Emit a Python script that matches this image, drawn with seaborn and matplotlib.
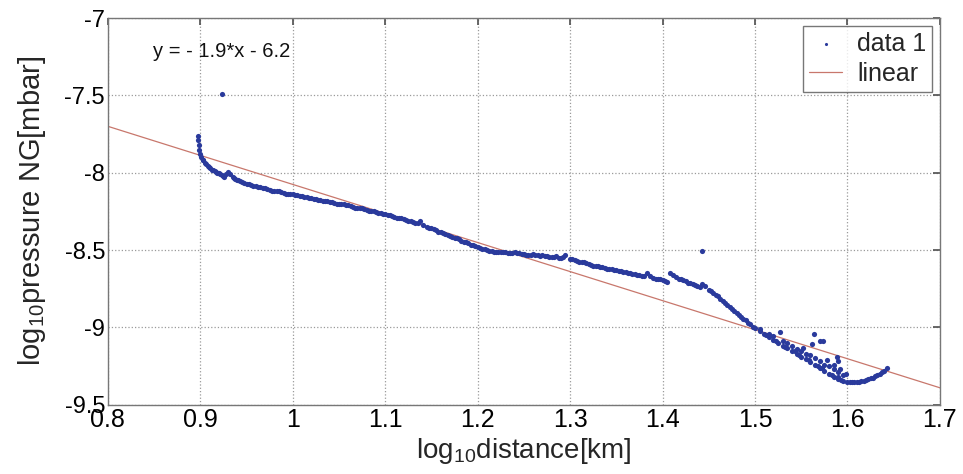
import matplotlib
matplotlib.use("Agg")
import matplotlib.pyplot as plt
import seaborn as sns
import pandas as pd

# ---- data ----
dist_log = [0.898, 0.898, 0.899, 0.899, 0.900, 0.901, 0.903, 0.905, 0.908, 0.911,
            0.914, 0.917, 0.920, 0.923, 0.926, 0.928, 0.930, 0.932, 0.935, 0.938,
            0.941, 0.945, 0.950, 0.955, 0.960, 0.965, 0.970, 0.975, 0.980, 0.985,
            0.990, 0.995, 1.000, 1.005, 1.010, 1.015, 1.020, 1.025, 1.030, 1.035,
            1.040, 1.045, 1.050, 1.055, 1.060, 1.065, 1.070, 1.075, 1.080, 1.085,
            1.090, 1.095, 1.100, 1.105, 1.110, 1.115, 1.120, 1.125, 1.130, 1.135,
            1.138, 1.141, 1.145, 1.150, 1.155, 1.160, 1.165, 1.170, 1.175, 1.180,
            1.185, 1.190, 1.195, 1.200, 1.205, 1.210, 1.215, 1.220, 1.225, 1.230,
            1.235, 1.240, 1.245, 1.250, 1.255, 1.260, 1.265, 1.270, 1.275, 1.280,
            1.285, 1.290, 1.295, 1.300, 1.305, 1.310, 1.315, 1.320, 1.325, 1.330,
            1.335, 1.340, 1.345, 1.350, 1.355, 1.360, 1.365, 1.370, 1.375, 1.380,
            1.383, 1.386, 1.390, 1.395, 1.400, 1.405, 1.408, 1.411, 1.415, 1.420,
            1.425, 1.430, 1.435, 1.440, 1.443, 1.446, 1.450, 1.455, 1.460, 1.465,
            1.470, 1.475, 1.480, 1.485, 1.490, 1.495, 1.500, 1.505, 1.510, 1.515,
            1.520, 1.525, 1.530, 1.535, 1.540, 1.545, 1.550, 1.555, 1.560, 1.565,
            1.570, 1.575, 1.580, 1.585, 1.590, 1.595, 1.600, 1.605, 1.610, 1.615,
            1.620, 1.625, 1.630, 1.635, 1.640, 1.643,
            # denser run of points between the ones above
            0.9025, 0.9065, 0.9095, 0.9125, 0.9155, 0.9185, 0.9215, 0.9245, 0.9365, 0.9395,
            0.9430, 0.9475, 0.9525, 0.9575, 0.9625, 0.9675, 0.9725, 0.9775, 0.9825, 0.9875,
            0.9925, 0.9975, 1.0025, 1.0075, 1.0125, 1.0175, 1.0225, 1.0275, 1.0325, 1.0375,
            1.0425, 1.0475, 1.0525, 1.0575, 1.0625, 1.0675, 1.0725, 1.0775, 1.0825, 1.0875,
            1.0925, 1.0975, 1.1025, 1.1075, 1.1125, 1.1175, 1.1225, 1.1275, 1.1325, 1.1475,
            1.1525, 1.1575, 1.1625, 1.1675, 1.1725, 1.1775, 1.1825, 1.1875, 1.1925, 1.1975,
            1.2025, 1.2075, 1.2125, 1.2175, 1.2225, 1.2275, 1.2325, 1.2375, 1.2425, 1.2475,
            1.2525, 1.2575, 1.2625, 1.2675, 1.2725, 1.2775, 1.2825, 1.2875, 1.2925, 1.3025,
            1.3075, 1.3125, 1.3175, 1.3225, 1.3275, 1.3325, 1.3375, 1.3425, 1.3475, 1.3525,
            1.3575, 1.3625, 1.3675, 1.3725, 1.3775, 1.3925, 1.3975, 1.4025, 1.4175, 1.4225,
            1.4275, 1.4325, 1.4375, 1.4525, 1.4575, 1.4625, 1.4675, 1.4725, 1.4775, 1.4825,
            1.4875, 1.4925, 1.4975, 1.6025, 1.6075, 1.6125, 1.6175, 1.6225, 1.6275, 1.6325,
            1.6375,
            # scattered band 1.5 - 1.6
            1.505, 1.515, 1.520, 1.530, 1.535, 1.540, 1.545, 1.550, 1.555, 1.560,
            1.565, 1.570, 1.575, 1.580, 1.585, 1.590, 1.595, 1.585, 1.590, 1.578,
            1.574, 1.570, 1.564, 1.562, 1.552, 1.527, 1.589, 1.592, 1.590, 1.598,
            1.512, 1.523, 1.533, 1.543, 1.548, 1.558, 1.568, 1.573, 1.583, 1.593,
            # outliers
            0.924, 1.443]
pressure_log = [-7.76, -7.79, -7.82, -7.85, -7.88, -7.90, -7.92, -7.94, -7.955, -7.97,
                -7.985, -7.995, -8.005, -8.015, -8.025, -8.01, -7.995, -8.01, -8.025, -8.04,
                -8.05, -8.06, -8.07, -8.08, -8.085, -8.095, -8.10, -8.11, -8.115, -8.12,
                -8.13, -8.135, -8.14, -8.145, -8.15, -8.16, -8.165, -8.17, -8.175, -8.18,
                -8.19, -8.195, -8.20, -8.205, -8.21, -8.22, -8.225, -8.23, -8.24, -8.245,
                -8.255, -8.26, -8.27, -8.275, -8.285, -8.29, -8.30, -8.31, -8.32, -8.325,
                -8.315, -8.335, -8.35, -8.36, -8.37, -8.385, -8.395, -8.41, -8.42, -8.43,
                -8.445, -8.455, -8.47, -8.48, -8.49, -8.50, -8.505, -8.51, -8.51, -8.515,
                -8.52, -8.515, -8.52, -8.525, -8.53, -8.525, -8.535, -8.535, -8.54, -8.545,
                -8.54, -8.55, -8.535, -8.555, -8.565, -8.575, -8.58, -8.59, -8.60, -8.605,
                -8.61, -8.62, -8.625, -8.63, -8.635, -8.64, -8.65, -8.655, -8.66, -8.67,
                -8.645, -8.665, -8.68, -8.69, -8.695, -8.705, -8.645, -8.66, -8.675, -8.69,
                -8.70, -8.715, -8.725, -8.74, -8.72, -8.735, -8.755, -8.78, -8.80, -8.83,
                -8.855, -8.88, -8.905, -8.93, -8.955, -8.98, -9.005, -9.025, -9.045, -9.06,
                -9.08, -9.10, -9.12, -9.135, -9.155, -9.17, -9.19, -9.205, -9.225, -9.24,
                -9.26, -9.28, -9.30, -9.32, -9.335, -9.345, -9.35, -9.355, -9.35, -9.345,
                -9.34, -9.33, -9.315, -9.30, -9.28, -9.265,
                -7.915, -7.945, -7.96, -7.98, -7.99, -8.0, -8.01, -8.02, -8.035, -8.045,
                -8.055, -8.065, -8.075, -8.085, -8.09, -8.10, -8.105, -8.115, -8.12, -8.125,
                -8.135, -8.14, -8.145, -8.15, -8.155, -8.165, -8.17, -8.175, -8.18, -8.185,
                -8.19, -8.20, -8.205, -8.21, -8.215, -8.225, -8.23, -8.235, -8.245, -8.25,
                -8.26, -8.265, -8.275, -8.28, -8.29, -8.295, -8.305, -8.315, -8.325, -8.355,
                -8.365, -8.38, -8.39, -8.405, -8.415, -8.425, -8.44, -8.45, -8.465, -8.475,
                -8.485, -8.495, -8.505, -8.51, -8.515, -8.51, -8.52, -8.52, -8.52, -8.525,
                -8.53, -8.53, -8.53, -8.54, -8.54, -8.545, -8.545, -8.55, -8.545, -8.56,
                -8.57, -8.58, -8.585, -8.595, -8.60, -8.61, -8.615, -8.62, -8.63, -8.635,
                -8.64, -8.645, -8.655, -8.66, -8.665, -8.685, -8.69, -8.70, -8.685, -8.695,
                -8.71, -8.72, -8.73, -8.765, -8.79, -8.815, -8.845, -8.87, -8.895, -8.92,
                -8.945, -8.97, -8.995, -9.355, -9.35, -9.35, -9.345, -9.335, -9.325, -9.31,
                -9.29,
                -9.01, -9.04, -9.055, -9.09, -9.10, -9.12, -9.14, -9.15, -9.17, -9.18,
                -9.20, -9.22, -9.24, -9.25, -9.27, -9.29, -9.31, -9.24, -9.22, -9.21,
                -9.09, -9.09, -9.04, -9.11, -9.13, -9.03, -9.19, -9.27, -9.32, -9.30,
                -9.05, -9.085, -9.125, -9.15, -9.18, -9.21, -9.25, -9.26, -9.31, -9.34,
                -7.49, -8.505]

# linear fit, y = -1.9*x - 6.2 (end points as drawn)
fit_x = [0.8, 1.7]
fit_y = [-7.70, -9.39]
fit_text = "y = - 1.9*x - 6.2"

x_ticks = [0.8, 0.9, 1.0, 1.1, 1.2, 1.3, 1.4, 1.5, 1.6, 1.7]
x_ticklabels = ["0.8", "0.9", "1", "1.1", "1.2", "1.3", "1.4", "1.5", "1.6", "1.7"]
y_ticks = [-9.5, -9, -8.5, -8, -7.5, -7]
y_ticklabels = ["-9.5", "-9", "-8.5", "-8", "-7.5", "-7"]

sns.set_theme(style="white")
plt.rcParams["font.family"] = ["Liberation Sans", "DejaVu Sans"]
plt.rcParams["mathtext.fontset"] = "custom"
plt.rcParams["mathtext.rm"] = "Liberation Sans"
plt.rcParams["mathtext.default"] = "rm"

df = pd.DataFrame({"x": dist_log, "y": pressure_log})
df_fit = pd.DataFrame({"x": fit_x, "y": fit_y})

fig = plt.figure(figsize=(9.63, 4.74), dpi=100)
ax = fig.add_axes([0.112, 0.146, 0.864, 0.816])

sns.lineplot(data=df_fit, x="x", y="y", ax=ax, color="#c8776c", lw=0.9,
             label="linear", zorder=2)
sns.scatterplot(data=df, x="x", y="y", ax=ax, color="#2a3a9c", s=14,
                linewidth=0, label="data 1", zorder=3)

ax.set_xlim(0.8, 1.7)
ax.set_ylim(-9.5, -7)
ax.set_xticks(x_ticks)
ax.set_xticklabels(x_ticklabels, fontsize=18)
ax.set_yticks(y_ticks)
ax.set_yticklabels(y_ticklabels, fontsize=17)
ax.tick_params(direction="in", length=5, top=True, right=True, colors="#555555",
               labelcolor="black", pad=2)
ax.grid(True, linestyle=":", color="#9a9a9a", lw=0.9)
for sp in ax.spines.values():
    sp.set_color("#777777")
    sp.set_linewidth(1.0)

ax.set_xlabel(r"log$_{10}$distance[km]", fontsize=20, labelpad=3)
ax.set_ylabel(r"log$_{10}$pressure NG[mbar]", fontsize=21, labelpad=12)

ax.text(0.054, 0.898, fit_text, transform=ax.transAxes, fontsize=14.5, color="#111111")

handles, labels = ax.get_legend_handles_labels()
order = [labels.index("data 1"), labels.index("linear")]
leg = ax.legend([handles[i] for i in order], [labels[i] for i in order],
                loc="upper right", fontsize=18, frameon=True, fancybox=False,
                borderaxespad=0.3, handlelength=1.3, handletextpad=0.6,
                borderpad=0.25, labelspacing=0.25, markerscale=0.6)
leg.get_frame().set_edgecolor("#555555")
leg.get_frame().set_linewidth(1.0)

plt.savefig("out.png", dpi=100)
plt.close()
